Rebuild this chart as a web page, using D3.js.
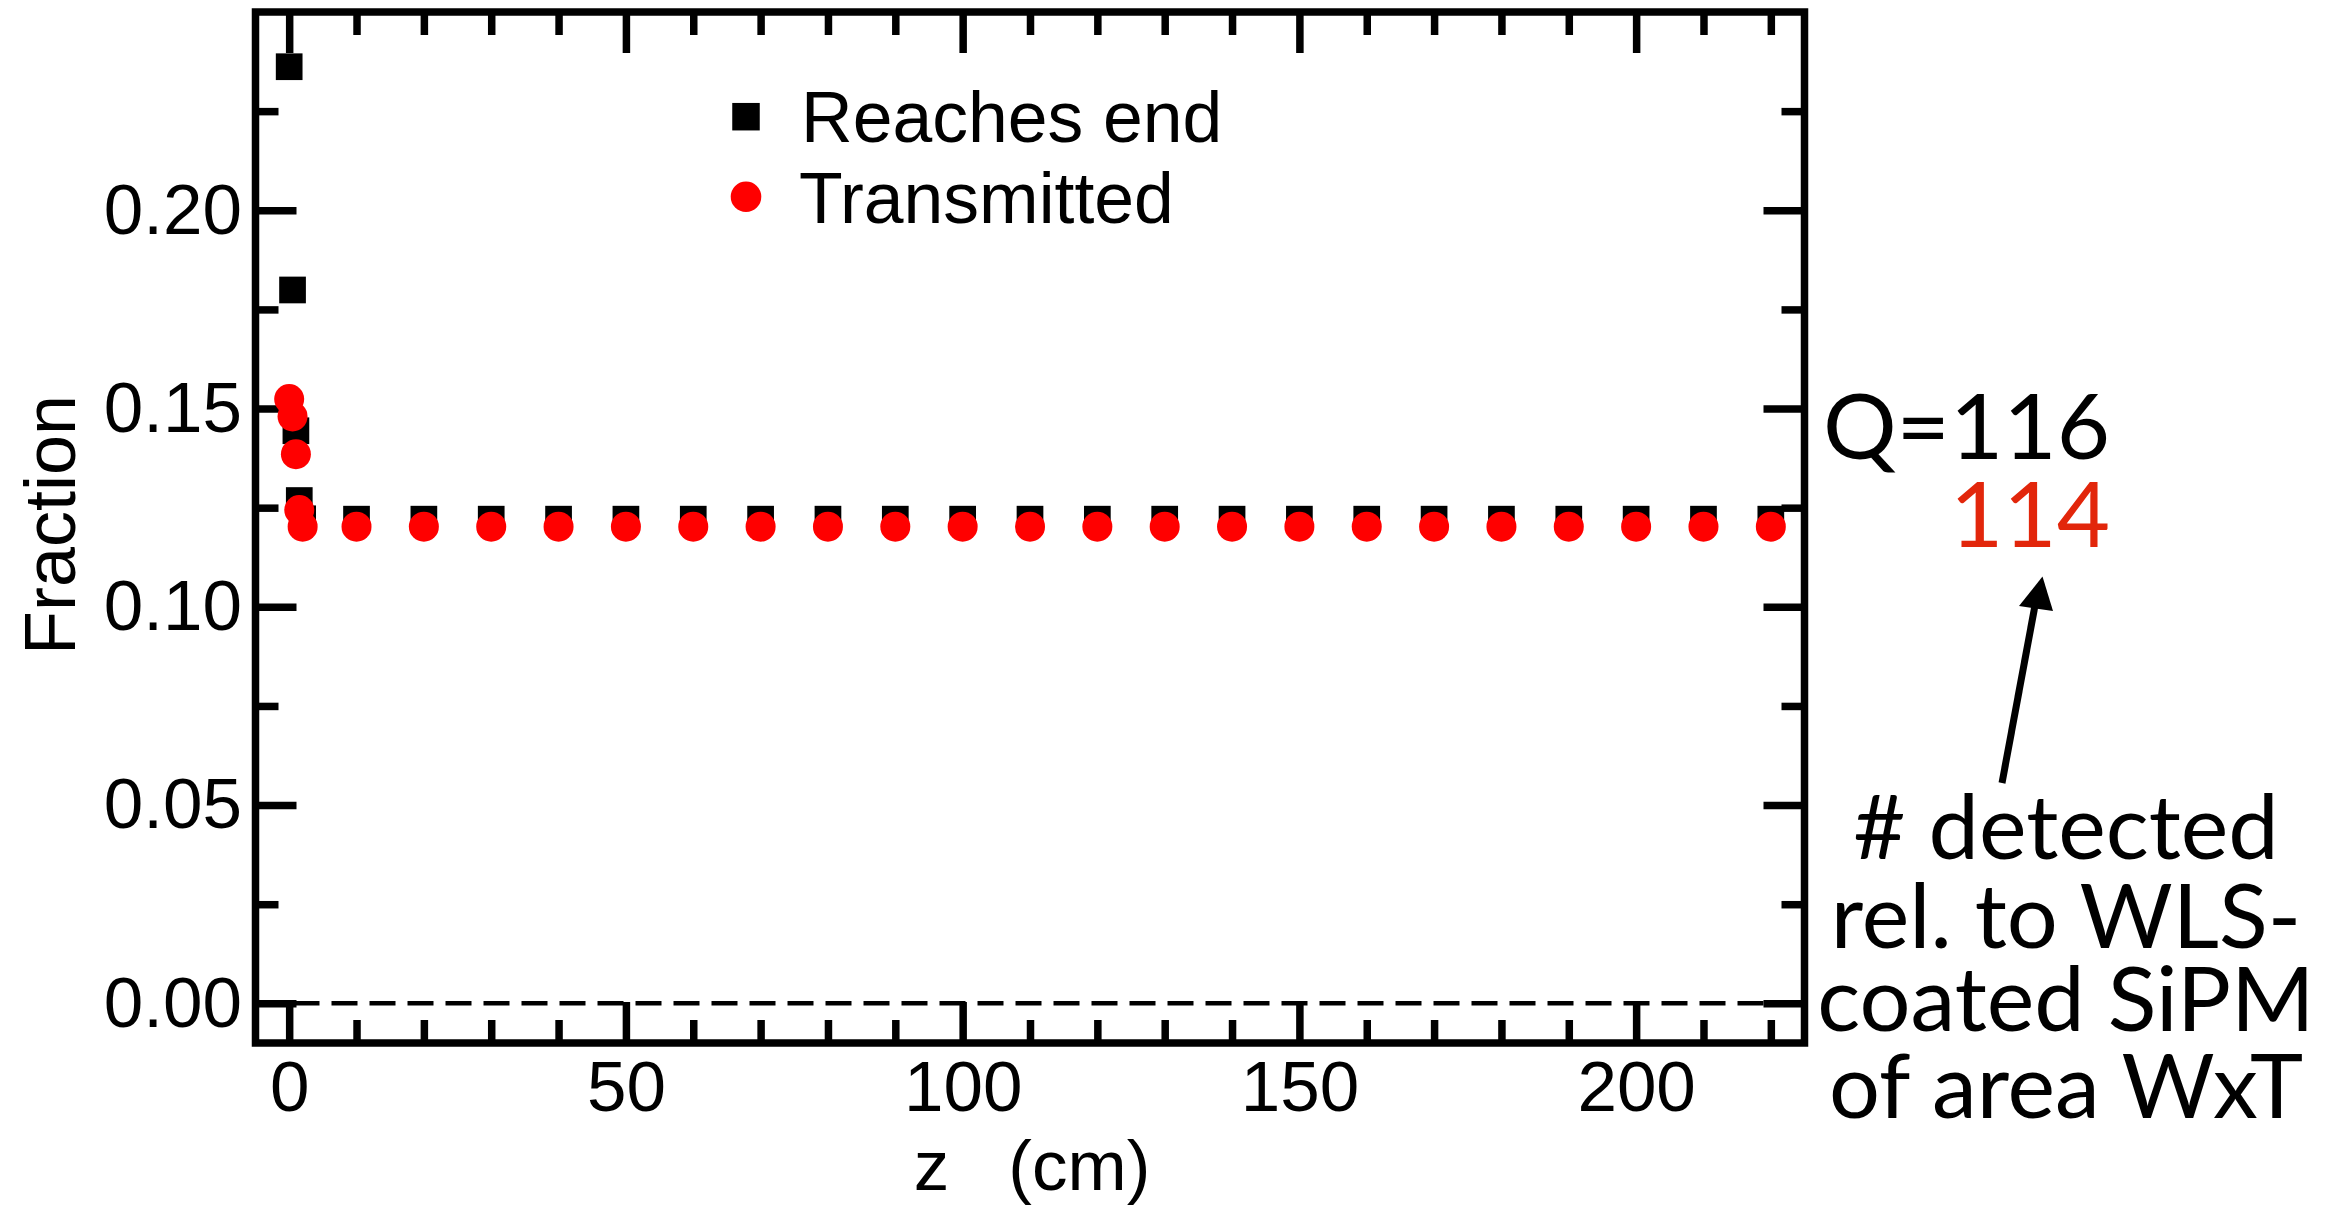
<!DOCTYPE html>
<html>
<head>
<meta charset="utf-8">
<script src="https://cdn.jsdelivr.net/npm/d3@7"></script>
<style>
  html, body { margin: 0; padding: 0; background: #fff; }
  svg { display: block; }
</style>
</head>
<body>
<svg id="chart" width="2337" height="1205"></svg>
<script>
// ---- data ----
const zValues = [0, 0.5, 1, 1.5, 2, 10, 20, 30, 40, 50, 60, 70, 80, 90, 100, 110, 120, 130, 140, 150, 160, 170, 180, 190, 200, 210, 220];
const reachesEnd = [0.2362, 0.1799, 0.1444, 0.1268, 0.1222, 0.1221, 0.1221, 0.1221, 0.1221, 0.1221, 0.1221, 0.1221, 0.1221, 0.1221, 0.1221, 0.1221, 0.1221, 0.1221, 0.1221, 0.1221, 0.1221, 0.1221, 0.1221, 0.1221, 0.1221, 0.1221, 0.1221];
const transmitted = [0.1524, 0.1480, 0.1385, 0.1244, 0.1202, 0.1202, 0.1202, 0.1202, 0.1202, 0.1202, 0.1202, 0.1202, 0.1202, 0.1202, 0.1202, 0.1202, 0.1202, 0.1202, 0.1202, 0.1202, 0.1202, 0.1202, 0.1202, 0.1202, 0.1202, 0.1202, 0.1202];
const xMajorTicks = [0, 50, 100, 150, 200];
const xMinorTicks = [10, 20, 30, 40, 60, 70, 80, 90, 110, 120, 130, 140, 160, 170, 180, 190, 210, 220];
const yMajorTicks = [0, 0.05, 0.10, 0.15, 0.20];
const yTickLabels = ["0.00", "0.05", "0.10", "0.15", "0.20"];
const yMinorTicks = [0.025, 0.075, 0.125, 0.175, 0.225];
const seriesNames = ["Reaches end", "Transmitted"];
const xLabel = "z   (cm)";
const yLabel = "Fraction";
const qLabels = ["Q=116", "114"];
const noteLines = ["# detected", "rel. to WLS-", "coated SiPM", "of area WxT"];

// ---- layout ----
const L = 255.5, R = 1804.5, T = 12, B = 1043;
const FW = 7.5;
const MAJ = 41, MIN = 23;
const helv = "'Liberation Sans', Arial, Helvetica, sans-serif";
const gill = "Lato, 'Open Sans', sans-serif";
const red = "#ff0000";

const svg = d3.select("#chart");
svg.append("rect").attr("width", 2337).attr("height", 1205).attr("fill", "#fff");

const x = d3.scaleLinear().domain([-5, 225]).range([L, R]);
const y = d3.scaleLinear().domain([-0.01, 0.25]).range([B, T]);

function styleAxis(g) {
  g.select(".domain").remove();
  g.selectAll(".tick line").attr("stroke", "#000").attr("stroke-width", FW).attr("stroke-linecap", "butt");
  g.selectAll("text").attr("font-family", helv).attr("font-size", 71).attr("fill", "#000");
}

// bottom
svg.append("g").attr("transform", `translate(0,${B})`)
  .call(d3.axisBottom(x).tickValues(xMajorTicks).tickSize(-MAJ).tickPadding(18).tickFormat(d3.format("d")))
  .call(styleAxis);
svg.append("g").attr("transform", `translate(0,${B})`)
  .call(d3.axisBottom(x).tickValues(xMinorTicks).tickSize(-MIN).tickFormat(""))
  .call(styleAxis);
// top
svg.append("g").attr("transform", `translate(0,${T})`)
  .call(d3.axisTop(x).tickValues(xMajorTicks).tickSize(-MAJ).tickFormat(""))
  .call(styleAxis);
svg.append("g").attr("transform", `translate(0,${T})`)
  .call(d3.axisTop(x).tickValues(xMinorTicks).tickSize(-MIN).tickFormat(""))
  .call(styleAxis);
// left
svg.append("g").attr("transform", `translate(${L},0)`)
  .call(d3.axisLeft(y).tickValues(yMajorTicks).tickSize(-MAJ).tickPadding(13.5).tickFormat((d, i) => yTickLabels[i]))
  .call(styleAxis);
svg.append("g").attr("transform", `translate(${L},0)`)
  .call(d3.axisLeft(y).tickValues(yMinorTicks).tickSize(-MIN).tickFormat(""))
  .call(styleAxis);
// right
svg.append("g").attr("transform", `translate(${R},0)`)
  .call(d3.axisRight(y).tickValues(yMajorTicks).tickSize(-MAJ).tickFormat(""))
  .call(styleAxis);
svg.append("g").attr("transform", `translate(${R},0)`)
  .call(d3.axisRight(y).tickValues(yMinorTicks).tickSize(-MIN).tickFormat(""))
  .call(styleAxis);

// zero dashed line
svg.append("line")
  .attr("x1", L).attr("x2", R).attr("y1", y(0)).attr("y2", y(0))
  .attr("stroke", "#000").attr("stroke-width", 4.5).attr("stroke-dasharray", "26,12");

// frame
svg.append("rect").attr("x", L).attr("y", T).attr("width", R - L).attr("height", B - T)
  .attr("fill", "none").attr("stroke", "#000").attr("stroke-width", FW);

// markers
const SQ = 26.7, RAD = 15;
svg.append("g").selectAll("rect").data(zValues.map((z, i) => [z, reachesEnd[i]])).join("rect")
  .attr("x", d => x(d[0]) - SQ / 2).attr("y", d => y(d[1]) - SQ / 2)
  .attr("width", SQ).attr("height", SQ).attr("fill", "#000");
svg.append("g").selectAll("circle").data(zValues.map((z, i) => [z, transmitted[i]])).join("circle")
  .attr("cx", d => x(d[0])).attr("cy", d => y(d[1])).attr("r", RAD).attr("fill", red);

// legend
const lg = svg.append("g");
lg.append("rect").attr("x", 746 - 13.75).attr("y", 116.7 - 13.75).attr("width", 27.5).attr("height", 27.5).attr("fill", "#000");
lg.append("circle").attr("cx", 746).attr("cy", 196.7).attr("r", 15.3).attr("fill", red);
lg.append("text").attr("x", 801).attr("y", 141.7).text(seriesNames[0])
  .attr("font-family", helv).attr("font-size", 71.5);
lg.append("text").attr("x", 799).attr("y", 222.7).text(seriesNames[1])
  .attr("font-family", helv).attr("font-size", 71.5);

// axis labels
svg.append("text").attr("x", (L + R) / 2 + 2).attr("y", 1190).attr("text-anchor", "middle")
  .style("white-space", "pre").attr("font-family", helv).attr("font-size", 71).text(xLabel);
svg.append("text").attr("transform", "translate(75,525) rotate(-90)").attr("text-anchor", "middle")
  .attr("font-family", helv).attr("font-size", 72).text(yLabel);

// annotations
svg.append("text").attr("x", 2110).attr("y", 459).attr("text-anchor", "end")
  .attr("font-family", gill).attr("font-size", 92).attr("fill", "#000").text(qLabels[0]);
svg.append("text").attr("x", 2110).attr("y", 547).attr("text-anchor", "end")
  .attr("font-family", gill).attr("font-size", 92).attr("fill", "#e2260b").text(qLabels[1]);

const noteY = [859, 948, 1031, 1118];
svg.append("g").selectAll("text").data(noteLines).join("text")
  .attr("x", 2066).attr("y", (d, i) => noteY[i]).attr("text-anchor", "middle")
  .attr("font-family", gill).attr("font-size", 90).attr("fill", "#000").text(d => d);

// arrow
svg.append("line").attr("x1", 2002).attr("y1", 783).attr("x2", 2036).attr("y2", 600)
  .attr("stroke", "#000").attr("stroke-width", 7);
svg.append("polygon").attr("points", "2042.5,576.5 2019,606 2053,611").attr("fill", "#000");
</script>
</body>
</html>
